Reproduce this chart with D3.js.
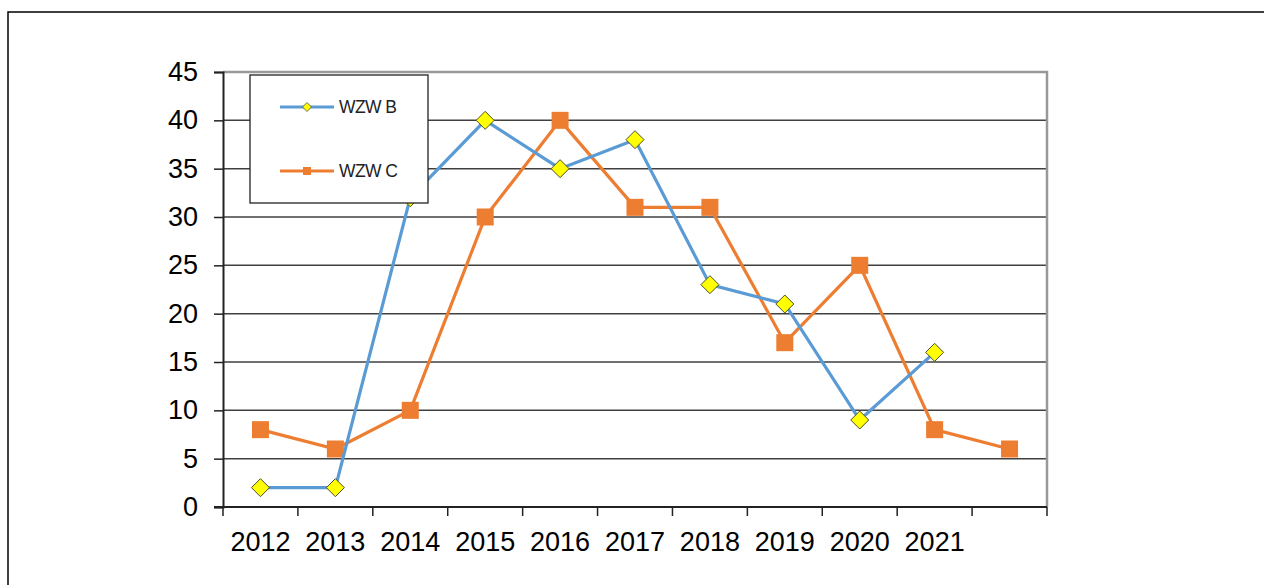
<!DOCTYPE html>
<html>
<head>
<meta charset="utf-8">
<script src="https://cdn.jsdelivr.net/npm/d3@7"></script>
<style>
  body { margin: 0; background: #fff; }
  svg { display: block; font-family: "Liberation Sans", Arial, sans-serif; }
</style>
</head>
<body>
<svg width="1264" height="585"></svg>
<script>
const years = ['2012', '2013', '2014', '2015', '2016', '2017', '2018', '2019', '2020', '2021', ''];
const wzwB = [2, 2, 32, 40, 35, 38, 23, 21, 9, 16, null];
const wzwC = [8, 6, 10, 30, 40, 31, 31, 17, 25, 8, 6];
const yTicks = [0, 5, 10, 15, 20, 25, 30, 35, 40, 45];

const margin = { left: 223, right: 1047, top: 72, bottom: 507 };

const svg = d3.select('svg');

// outer frame (only left + top visible)
svg.append('rect')
    .attr('x', 8).attr('y', 12)
    .attr('width', 1400).attr('height', 700)
    .attr('fill', 'none')
    .attr('stroke', '#000')
    .attr('stroke-width', 1.5);

const x = d3.scaleBand()
    .domain(d3.range(years.length))
    .range([margin.left, margin.right]);

const y = d3.scaleLinear()
    .domain([0, 45])
    .range([margin.bottom, margin.top]);

const g = svg.append('g');

// gridlines
g.selectAll('.grid')
    .data(yTicks.filter(d => d > 0 && d < 45))
    .enter().append('line')
    .attr('x1', margin.left).attr('x2', margin.right)
    .attr('y1', d => y(d)).attr('y2', d => y(d))
    .attr('stroke', '#404040')
    .attr('stroke-width', 1.5);

// plot area border (top + right, gray)
g.append('path')
    .attr('d', `M${margin.left},${y(45)}H${margin.right}V${margin.bottom}`)
    .attr('fill', 'none')
    .attr('stroke', '#999')
    .attr('stroke-width', 2.5);

// y axis
const yAxis = g.append('g')
    .attr('transform', `translate(${margin.left},0)`)
    .call(d3.axisLeft(y).tickValues(yTicks).tickSize(9).tickPadding(16));
yAxis.select('.domain').attr('stroke', '#222').attr('stroke-width', 2);
yAxis.selectAll('.tick line').attr('stroke', '#222').attr('stroke-width', 1.5);
yAxis.selectAll('.tick text')
    .attr('font-size', 27)
    .attr('fill', '#000')
    .style('font-family', '"Liberation Sans", Arial, sans-serif');

// x axis with ticks at band boundaries
const xAxis = g.append('g')
    .attr('transform', `translate(0,${margin.bottom})`);
xAxis.append('line')
    .attr('x1', margin.left - 9).attr('x2', margin.right)
    .attr('stroke', '#222').attr('stroke-width', 2);
xAxis.selectAll('.xt')
    .data(d3.range(years.length + 1))
    .enter().append('line')
    .attr('x1', i => i < years.length ? x(i) : x.range()[1])
    .attr('x2', i => i < years.length ? x(i) : x.range()[1])
    .attr('y1', 0).attr('y2', 9)
    .attr('stroke', '#222').attr('stroke-width', 1.5);
xAxis.selectAll('.xl')
    .data(years)
    .enter().append('text')
    .attr('x', (d, i) => x(i) + x.bandwidth() / 2)
    .attr('y', 44)
    .attr('text-anchor', 'middle')
    .attr('font-size', 27)
    .attr('fill', '#000')
    .text(d => d);

const cx = i => x(i) + x.bandwidth() / 2;

const line = d3.line()
    .defined(d => d != null)
    .x((d, i) => cx(i))
    .y(d => y(d));

// WZW C series
g.append('path')
    .datum(wzwC)
    .attr('d', line)
    .attr('fill', 'none')
    .attr('stroke', '#ED7D31')
    .attr('stroke-width', 3.2);
g.selectAll('.sq')
    .data(wzwC)
    .enter().append('rect')
    .attr('x', (d, i) => cx(i) - 8.5)
    .attr('y', d => y(d) - 8.5)
    .attr('width', 17).attr('height', 17)
    .attr('fill', '#ED7D31');

// WZW B series
g.append('path')
    .datum(wzwB)
    .attr('d', line)
    .attr('fill', 'none')
    .attr('stroke', '#5B9BD5')
    .attr('stroke-width', 3.2);
const diamond = 'M0,-9L9,0L0,9L-9,0Z';
g.selectAll('.dm')
    .data(wzwB.map((v, i) => ({ v, i })).filter(d => d.v != null))
    .enter().append('path')
    .attr('d', diamond)
    .attr('transform', d => `translate(${cx(d.i)},${y(d.v)})`)
    .attr('fill', '#FFFF00')
    .attr('stroke', '#4d4d2a')
    .attr('stroke-width', 1);

// legend
const legend = svg.append('g');
legend.append('rect')
    .attr('x', 250).attr('y', 75)
    .attr('width', 178).attr('height', 128)
    .attr('fill', '#fff')
    .attr('stroke', '#222')
    .attr('stroke-width', 1.3);

const legendItems = [
    { name: 'WZW B', color: '#5B9BD5', y: 107, marker: 'diamond' },
    { name: 'WZW C', color: '#ED7D31', y: 171, marker: 'square' }
];
legendItems.forEach(it => {
    legend.append('line')
        .attr('x1', 280).attr('x2', 334)
        .attr('y1', it.y).attr('y2', it.y)
        .attr('stroke', it.color)
        .attr('stroke-width', 3);
    if (it.marker === 'diamond') {
        legend.append('path')
            .attr('d', 'M0,-4.5L4.5,0L0,4.5L-4.5,0Z')
            .attr('transform', `translate(307,${it.y})`)
            .attr('fill', '#FFFF00')
            .attr('stroke', '#4d4d2a')
            .attr('stroke-width', 0.8);
    } else {
        legend.append('rect')
            .attr('x', 303).attr('y', it.y - 4)
            .attr('width', 8).attr('height', 8)
            .attr('fill', it.color);
    }
    legend.append('text')
        .attr('x', 339)
        .attr('y', it.y + 6)
        .attr('font-size', 17.5)
        .attr('letter-spacing', -0.6)
        .attr('fill', '#222')
        .text(it.name);
});
</script>
</body>
</html>
